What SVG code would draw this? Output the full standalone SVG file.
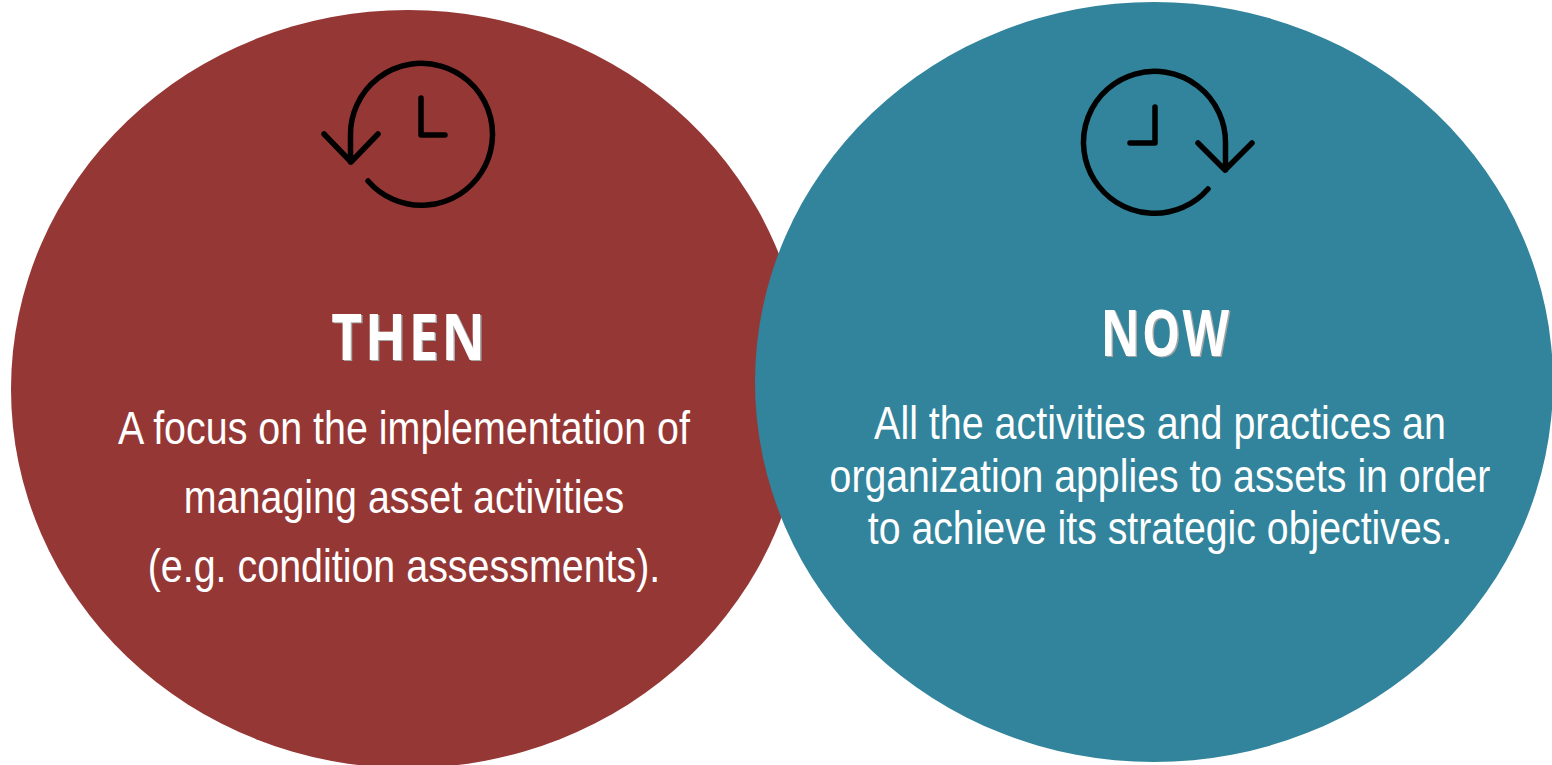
<svg xmlns="http://www.w3.org/2000/svg" width="1552" height="765" viewBox="0 0 1552 765">
<style>
.body{font-family:"Liberation Sans",Arial,sans-serif;font-size:46px;fill:#fff;text-anchor:middle}
.title{font-family:"Open Sans","Liberation Sans",sans-serif;font-size:65px;font-weight:700;text-anchor:middle}
.t1{letter-spacing:3.500px}.t2{letter-spacing:3px}
.sh{fill:#a6a6a6}.fg{fill:#fff}
.icon{fill:none;stroke:#000;stroke-width:5.500;stroke-linecap:round;stroke-linejoin:round}
</style>
<rect width="1552" height="765" fill="#fff"/>
<g id="then">
<ellipse cx="408" cy="389" rx="397" ry="379" fill="#953735"/>
<path class="icon" d="M368 181A71 71 0 1 0 350.500 135V162M324 134L351 162L378 134M421 98V135H445"/>
<text class="title t1 sh" transform="translate(411 361) scale(.82 1)">THEN</text>
<text class="title t1 fg" transform="translate(409.500 360) scale(.82 1)">THEN</text>
<text class="body" transform="translate(404 444) scale(.857 1)">A focus on the implementation of</text>
<text class="body" transform="translate(404 513) scale(.857 1)">managing asset activities</text>
<text class="body" transform="translate(404 582) scale(.857 1)">(e.g. condition assessments).</text>
</g>
<g id="now">
<ellipse cx="1154" cy="382" rx="399" ry="380" fill="#31849b"/>
<path class="icon" d="M1208 189A71 71 0 1 1 1225.500 143V170M1198 143L1225 170L1252 143M1155 107V143H1130"/>
<text class="title t2 sh" transform="translate(1167.500 357) scale(.74 1)">NOW</text>
<text class="title t2 fg" transform="translate(1166 356) scale(.74 1)">NOW</text>
<text class="body" transform="translate(1160 439) scale(.857 1)">All the activities and practices an</text>
<text class="body" transform="translate(1160 492) scale(.853 1)">organization applies to assets in order</text>
<text class="body" transform="translate(1160 544) scale(.853 1)">to achieve its strategic objectives.</text>
</g>
</svg>
